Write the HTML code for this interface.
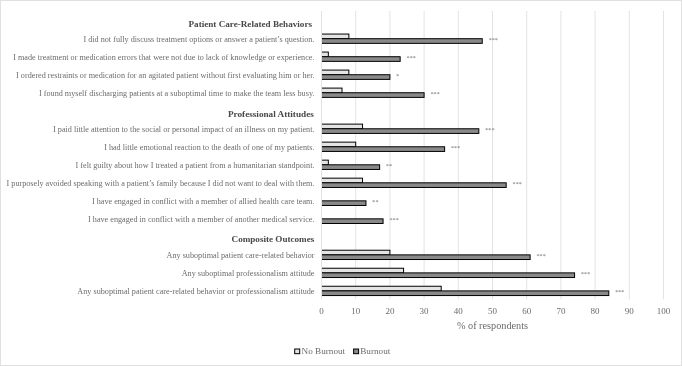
<!DOCTYPE html>
<html><head><meta charset="utf-8"><title>Chart</title>
<style>
html,body{margin:0;padding:0;background:#fff;}
body{width:682px;height:366px;overflow:hidden;}
svg{display:block;font-family:"Liberation Serif","Times New Roman",serif;}
</style></head><body>
<svg width="682" height="366" viewBox="0 0 682 366">
<defs><filter id="b" x="0" y="0" width="682" height="366" filterUnits="userSpaceOnUse"><feGaussianBlur stdDeviation="0.4"/></filter></defs>
<rect x="0" y="0" width="682" height="366" fill="#fff"/>
<rect x="0.5" y="0.5" width="681" height="365" fill="none" stroke="#e0e0e0" stroke-width="1"/>

<g stroke="#e3e3e3" stroke-width="1">
<line x1="355.70" y1="11.00" x2="355.70" y2="299.40"/>
<line x1="389.90" y1="11.00" x2="389.90" y2="299.40"/>
<line x1="424.10" y1="11.00" x2="424.10" y2="299.40"/>
<line x1="458.30" y1="11.00" x2="458.30" y2="299.40"/>
<line x1="492.50" y1="11.00" x2="492.50" y2="299.40"/>
<line x1="526.70" y1="11.00" x2="526.70" y2="299.40"/>
<line x1="560.90" y1="11.00" x2="560.90" y2="299.40"/>
<line x1="595.10" y1="11.00" x2="595.10" y2="299.40"/>
<line x1="629.30" y1="11.00" x2="629.30" y2="299.40"/>
<line x1="663.50" y1="11.00" x2="663.50" y2="299.40"/>
</g>
<rect x="321.50" y="34.05" width="27.36" height="4.65" fill="#e4e4e4" stroke="#000" stroke-width="1"/>
<rect x="321.50" y="38.70" width="160.74" height="4.65" fill="#898989" stroke="#000" stroke-width="1"/>
<rect x="321.50" y="52.06" width="6.84" height="4.65" fill="#e4e4e4" stroke="#000" stroke-width="1"/>
<rect x="321.50" y="56.71" width="78.66" height="4.65" fill="#898989" stroke="#000" stroke-width="1"/>
<rect x="321.50" y="70.08" width="27.36" height="4.65" fill="#e4e4e4" stroke="#000" stroke-width="1"/>
<rect x="321.50" y="74.73" width="68.40" height="4.65" fill="#898989" stroke="#000" stroke-width="1"/>
<rect x="321.50" y="88.09" width="20.52" height="4.65" fill="#e4e4e4" stroke="#000" stroke-width="1"/>
<rect x="321.50" y="92.74" width="102.60" height="4.65" fill="#898989" stroke="#000" stroke-width="1"/>
<rect x="321.50" y="124.12" width="41.04" height="4.65" fill="#e4e4e4" stroke="#000" stroke-width="1"/>
<rect x="321.50" y="128.77" width="157.32" height="4.65" fill="#898989" stroke="#000" stroke-width="1"/>
<rect x="321.50" y="142.13" width="34.20" height="4.65" fill="#e4e4e4" stroke="#000" stroke-width="1"/>
<rect x="321.50" y="146.78" width="123.12" height="4.65" fill="#898989" stroke="#000" stroke-width="1"/>
<rect x="321.50" y="160.15" width="6.84" height="4.65" fill="#e4e4e4" stroke="#000" stroke-width="1"/>
<rect x="321.50" y="164.80" width="58.14" height="4.65" fill="#898989" stroke="#000" stroke-width="1"/>
<rect x="321.50" y="178.16" width="41.04" height="4.65" fill="#e4e4e4" stroke="#000" stroke-width="1"/>
<rect x="321.50" y="182.81" width="184.68" height="4.65" fill="#898989" stroke="#000" stroke-width="1"/>
<rect x="321.50" y="200.83" width="44.46" height="4.65" fill="#898989" stroke="#000" stroke-width="1"/>
<rect x="321.50" y="218.84" width="61.56" height="4.65" fill="#898989" stroke="#000" stroke-width="1"/>
<rect x="321.50" y="250.22" width="68.40" height="4.65" fill="#e4e4e4" stroke="#000" stroke-width="1"/>
<rect x="321.50" y="254.87" width="208.62" height="4.65" fill="#898989" stroke="#000" stroke-width="1"/>
<rect x="321.50" y="268.23" width="82.08" height="4.65" fill="#e4e4e4" stroke="#000" stroke-width="1"/>
<rect x="321.50" y="272.88" width="253.08" height="4.65" fill="#898989" stroke="#000" stroke-width="1"/>
<rect x="321.50" y="286.25" width="119.70" height="4.65" fill="#e4e4e4" stroke="#000" stroke-width="1"/>
<rect x="321.50" y="290.90" width="287.28" height="4.65" fill="#898989" stroke="#000" stroke-width="1"/>
<line x1="321.5" y1="11.0" x2="321.5" y2="299.4" stroke="#e3e3e3" stroke-width="1"/>
<rect x="294.7" y="349.0" width="5" height="4.7" fill="#e4e4e4" stroke="#000" stroke-width="1"/>
<rect x="353.6" y="349.0" width="5" height="4.7" fill="#898989" stroke="#000" stroke-width="1"/>
<g filter="url(#b)">
<text x="312.0" y="26.75" text-anchor="end" font-size="9.13" font-weight="bold" fill="#484848">Patient Care-Related Behaviors</text>
<text x="314.5" y="41.55" text-anchor="end" font-size="8.18" fill="#6c6c6c">I did not fully discuss treatment options or answer a patient’s question.</text>
<text x="488.64" y="41.70" font-size="6.2" fill="#6c6c6c">***</text>
<text x="314.5" y="59.56" text-anchor="end" font-size="8.18" fill="#6c6c6c">I made treatment or medication errors that were not due to lack of knowledge or experience.</text>
<text x="406.56" y="59.71" font-size="6.2" fill="#6c6c6c">***</text>
<text x="314.5" y="77.58" text-anchor="end" font-size="8.18" fill="#6c6c6c">I ordered restraints or medication for an agitated patient without first evaluating him or her.</text>
<text x="396.30" y="77.73" font-size="6.2" fill="#6c6c6c">*</text>
<text x="314.5" y="95.59" text-anchor="end" font-size="8.18" fill="#6c6c6c">I found myself discharging patients at a suboptimal time to make the team less busy.</text>
<text x="430.50" y="95.74" font-size="6.2" fill="#6c6c6c">***</text>
<text x="313.8" y="116.60" text-anchor="end" font-size="9.2" font-weight="bold" fill="#484848">Professional Attitudes</text>
<text x="314.5" y="131.62" text-anchor="end" font-size="8.18" fill="#6c6c6c">I paid little attention to the social or personal impact of an illness on my patient.</text>
<text x="485.22" y="131.77" font-size="6.2" fill="#6c6c6c">***</text>
<text x="314.5" y="149.63" text-anchor="end" font-size="8.18" fill="#6c6c6c">I had little emotional reaction to the death of one of my patients.</text>
<text x="451.02" y="149.78" font-size="6.2" fill="#6c6c6c">***</text>
<text x="314.5" y="167.65" text-anchor="end" font-size="8.18" fill="#6c6c6c">I felt guilty about how I treated a patient from a humanitarian standpoint.</text>
<text x="386.04" y="167.80" font-size="6.2" fill="#6c6c6c">**</text>
<text x="314.5" y="185.66" text-anchor="end" font-size="8.18" fill="#6c6c6c">I purposely avoided speaking with a patient’s family because I did not want to deal with them.</text>
<text x="512.58" y="185.81" font-size="6.2" fill="#6c6c6c">***</text>
<text x="314.5" y="203.68" text-anchor="end" font-size="8.18" fill="#6c6c6c">I have engaged in conflict with a member of allied health care team.</text>
<text x="372.36" y="203.83" font-size="6.2" fill="#6c6c6c">**</text>
<text x="314.5" y="221.69" text-anchor="end" font-size="8.18" fill="#6c6c6c">I have engaged in conflict with a member of another medical service.</text>
<text x="389.46" y="221.84" font-size="6.2" fill="#6c6c6c">***</text>
<text x="314.3" y="241.85" text-anchor="end" font-size="9.12" font-weight="bold" fill="#484848">Composite Outcomes</text>
<text x="314.5" y="257.72" text-anchor="end" font-size="8.18" fill="#6c6c6c">Any suboptimal patient care-related behavior</text>
<text x="536.52" y="257.87" font-size="6.2" fill="#6c6c6c">***</text>
<text x="314.5" y="275.73" text-anchor="end" font-size="8.18" fill="#6c6c6c">Any suboptimal professionalism attitude</text>
<text x="580.98" y="275.88" font-size="6.2" fill="#6c6c6c">***</text>
<text x="314.5" y="293.75" text-anchor="end" font-size="8.18" fill="#6c6c6c">Any suboptimal patient care-related behavior or professionalism attitude</text>
<text x="615.18" y="293.90" font-size="6.2" fill="#6c6c6c">***</text>
<text x="321.50" y="313.7" text-anchor="middle" font-size="9" fill="#6c6c6c">0</text>
<text x="355.70" y="313.7" text-anchor="middle" font-size="9" fill="#6c6c6c">10</text>
<text x="389.90" y="313.7" text-anchor="middle" font-size="9" fill="#6c6c6c">20</text>
<text x="424.10" y="313.7" text-anchor="middle" font-size="9" fill="#6c6c6c">30</text>
<text x="458.30" y="313.7" text-anchor="middle" font-size="9" fill="#6c6c6c">40</text>
<text x="492.50" y="313.7" text-anchor="middle" font-size="9" fill="#6c6c6c">50</text>
<text x="526.70" y="313.7" text-anchor="middle" font-size="9" fill="#6c6c6c">60</text>
<text x="560.90" y="313.7" text-anchor="middle" font-size="9" fill="#6c6c6c">70</text>
<text x="595.10" y="313.7" text-anchor="middle" font-size="9" fill="#6c6c6c">80</text>
<text x="629.30" y="313.7" text-anchor="middle" font-size="9" fill="#6c6c6c">90</text>
<text x="663.50" y="313.7" text-anchor="middle" font-size="9" fill="#6c6c6c">100</text>
<text x="492.50" y="328.5" text-anchor="middle" font-size="10.25" fill="#6c6c6c">% of respondents</text>
<text x="301.5" y="354.3" font-size="9.2" fill="#6c6c6c">No Burnout</text>
<text x="360.2" y="354.3" font-size="9.2" fill="#6c6c6c">Burnout</text>
</g>
</svg></body></html>
